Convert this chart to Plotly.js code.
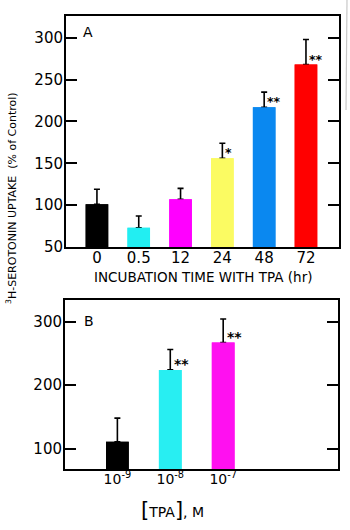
<!DOCTYPE html>
<html>
<head>
<meta charset="utf-8">
<script src="https://cdn.plot.ly/plotly-3.0.1.min.js"></script>
<style>html,body{margin:0;padding:0;background:#fff;}#chart{width:350px;height:530px;}</style>
</head>
<body>
<div id="chart"></div>
<script>
// Panel A: incubation time with TPA
const timeLabels = ["0", "0.5", "12", "24", "48", "72"];
const timeUptake = [101, 73, 107, 156, 217, 268];
const timeErrUp = [18, 14, 13, 18, 18, 30];
const timeSig = ["", "", "", "*", "**", "**"];
const timeColors = ["#000000", "#22eef2", "#ff00ff", "#fbfb62", "#0a88f0", "#ff0000"];

// Panel B: TPA concentration
const concLabels = ["10^-9 M", "10^-8 M", "10^-7 M"];
const concTickText = ["10<sup>-9</sup>", "10<sup>-8</sup>", "10<sup>-7</sup>"];
const concUptake = [111, 224, 267];
const concErrUp = [37, 32, 37];
const concSig = ["", "**", "**"];
const concColors = ["#000000", "#28eef2", "#ff10f0"];

const FONT = "DejaVu Sans, Liberation Sans, Arial, sans-serif";
const W = 350, H = 530;
const px = x => x / W;
const py = y => 1 - y / H;

const errStyle = (arr) => ({type: "data", symmetric: false, array: arr,
  arrayminus: arr.map(() => 0), color: "#000", thickness: 1.6, width: 3});

const traces = [
  {type: "bar", x: timeLabels, y: timeUptake, width: 0.54, xaxis: "x", yaxis: "y",
   marker: {color: timeColors, line: {width: 0}}, error_y: errStyle(timeErrUp),
   hoverinfo: "skip", showlegend: false},
  {type: "bar", x: timeLabels, y: timeUptake, width: 0.54, xaxis: "x", yaxis: "y",
   marker: {color: timeColors, line: {width: 0}}, hoverinfo: "skip", showlegend: false},
  {type: "bar", x: concLabels, y: concUptake, width: 0.43, xaxis: "x2", yaxis: "y2",
   marker: {color: concColors, line: {width: 0}}, error_y: errStyle(concErrUp),
   hoverinfo: "skip", showlegend: false},
  {type: "bar", x: concLabels, y: concUptake, width: 0.43, xaxis: "x2", yaxis: "y2",
   marker: {color: concColors, line: {width: 0}}, hoverinfo: "skip", showlegend: false}
];

const annotations = [];
timeSig.forEach((s, i) => {
  if (s) annotations.push({xref: "x", yref: "y", x: i, y: timeUptake[i],
    text: "<b>" + s + "</b>", showarrow: false, xanchor: "left", yanchor: "bottom",
    xshift: 1, yshift: -4, font: {family: FONT, size: 12.5, color: "#000"}});
});
concSig.forEach((s, i) => {
  if (s) annotations.push({xref: "x2", yref: "y2", x: i, y: concUptake[i],
    text: "<b>" + s + "</b>", showarrow: false, xanchor: "left", yanchor: "bottom",
    xshift: 2, yshift: -4, font: {family: FONT, size: 14, color: "#000"}});
});
annotations.push(
  {xref: "paper", yref: "paper", x: px(88), y: py(32), text: "A", showarrow: false,
   xanchor: "center", yanchor: "middle", font: {family: FONT, size: 14, color: "#000"}},
  {xref: "paper", yref: "paper", x: px(89), y: py(321), text: "B", showarrow: false,
   xanchor: "center", yanchor: "middle", font: {family: FONT, size: 14, color: "#000"}},
  {xref: "paper", yref: "paper", x: px(12), y: py(198), textangle: -90,
   xanchor: "center", yanchor: "middle",
   text: "<sup>3</sup>H-SEROTONIN UPTAKE  (% of Control)", showarrow: false,
   font: {family: FONT, size: 11, color: "#000"}},
  {xref: "paper", yref: "paper", x: px(203), y: py(277), xanchor: "center", yanchor: "middle",
   text: "INCUBATION TIME WITH TPA (hr)", showarrow: false,
   font: {family: FONT, size: 13.5, color: "#000"}},
  {xref: "paper", yref: "paper", x: px(172), y: py(510), xanchor: "center", yanchor: "middle",
   text: "<span style='font-size:21px'>[</span>TPA<span style='font-size:21px'>]</span>, M",
   showarrow: false, font: {family: FONT, size: 14, color: "#000"}}
);

const yax = {
  showline: true, linecolor: "#000", linewidth: 2, mirror: "ticks",
  ticks: "inside", ticklen: 11, tickwidth: 2, tickcolor: "#000",
  showgrid: false, zeroline: false, fixedrange: true, ticklabelstandoff: -2,
  tickfont: {family: FONT, size: 15, color: "#000"}
};
const xax = {
  type: "category", showline: true, linecolor: "#000", linewidth: 2, mirror: true,
  ticks: "", showgrid: false, zeroline: false, fixedrange: true, ticklabelstandoff: -4,
  tickfont: {family: FONT, size: 15, color: "#000"}
};

const layout = {
  width: W, height: H,
  margin: {l: 0, r: 0, t: 0, b: 0},
  paper_bgcolor: "#fff", plot_bgcolor: "#fff",
  barmode: "overlay",
  showlegend: false,
  xaxis: Object.assign({}, xax, {domain: [px(66), px(339)], anchor: "y",
    range: [-0.74, 5.79]}),
  yaxis: Object.assign({}, yax, {domain: [py(247), py(16)], anchor: "x",
    range: [50, 326], tickvals: [50, 100, 150, 200, 250, 300]}),
  xaxis2: Object.assign({}, xax, {domain: [px(65), px(338)], anchor: "y2",
    range: [-0.99, 4.17], tickvals: concLabels, ticktext: concTickText,
    tickfont: {family: FONT, size: 14, color: "#000"}}),
  yaxis2: Object.assign({}, yax, {domain: [py(469), py(300)], anchor: "x2",
    range: [68, 334], tickvals: [100, 200, 300]}),
  annotations: annotations,
  shapes: [
    {type: "line", xref: "paper", yref: "paper", x0: px(347), x1: px(346), y0: py(0), y1: py(110),
     line: {color: "#c8c8c8", width: 1.2}}
  ]
};

Plotly.newPlot("chart", traces, layout, {displayModeBar: false, staticPlot: true});
</script>
</body>
</html>
